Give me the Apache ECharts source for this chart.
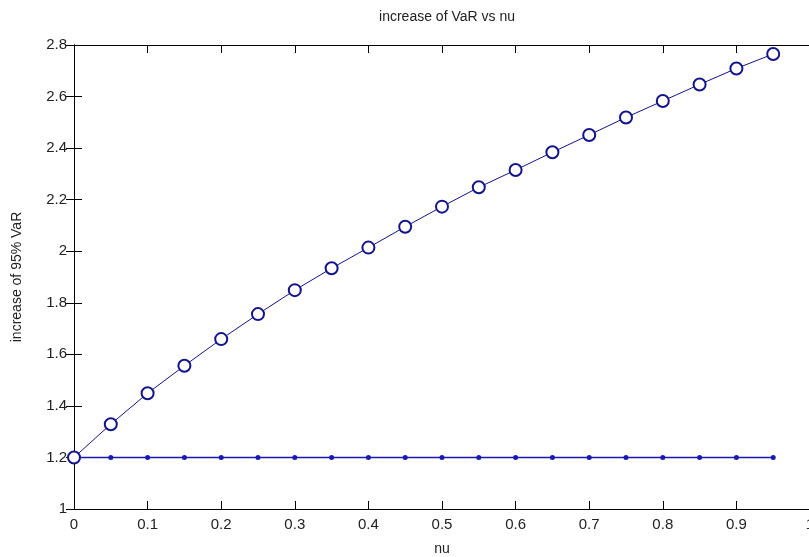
<!DOCTYPE html>
<html><head><meta charset="utf-8">
<script src="https://cdn.jsdelivr.net/npm/echarts@6/dist/echarts.min.js"></script>
<style>html,body{margin:0;padding:0;background:#fff}#c{width:809px;height:557px}</style>
</head><body><div id="c"></div>
<script>
const nu = [0,0.05,0.1,0.15,0.2,0.25,0.3,0.35,0.4,0.45,0.5,0.55,0.6,0.65,0.7,0.75,0.8,0.85,0.9,0.95];
const varIncrease = [1.2,1.329,1.449,1.556,1.659,1.756,1.849,1.934,2.014,2.095,2.173,2.248,2.315,2.384,2.451,2.519,2.583,2.647,2.709,2.765];
const baseline = [1.2,1.2,1.2,1.2,1.2,1.2,1.2,1.2,1.2,1.2,1.2,1.2,1.2,1.2,1.2,1.2,1.2,1.2,1.2,1.2];
const titleText = 'increase of VaR vs nu';
const xName = 'nu';
const yName = 'increase of 95% VaR';

const font = "'Liberation Sans Narrow','Liberation Sans',Arial,sans-serif";
const txt = '#222';
const axisLine = {show:true, lineStyle:{color:'#000', width:1}};
const chart = echarts.init(document.getElementById('c'));
const grid = {left:74, top:45, width:736, height:464, containLabel:false, outerBoundsMode:'none'};
chart.setOption({
  animation:false,
  backgroundColor:'#fff',
  title:{text:titleText, left:442, top:5, textAlign:'center',
    textStyle:{fontFamily:font, fontSize:14, fontWeight:'normal', color:txt}},
  grid: grid,
  xAxis:[{
    type:'value', min:0, max:1, interval:0.1, position:'bottom',
    axisLine:axisLine, axisTick:{show:true, inside:true, length:8, lineStyle:{color:'#000'}},
    splitLine:{show:false},
    axisLabel:{fontFamily:font, fontSize:15, color:txt, margin:8,
      formatter:v=>String(Math.round(v*10)/10)},
    name:xName, nameLocation:'middle', nameGap:33,
    nameTextStyle:{fontFamily:font, fontSize:14, color:txt}
  },{
    type:'value', min:0, max:1, interval:0.1, position:'top',
    axisLine:axisLine, axisTick:{show:true, inside:true, length:8, lineStyle:{color:'#000'}},
    splitLine:{show:false}, axisLabel:{show:false}
  }],
  yAxis:[{
    type:'value', min:1, max:2.8, interval:0.2, position:'left',
    axisLine:axisLine, axisTick:{show:true, inside:true, length:8, lineStyle:{color:'#000'}},
    splitLine:{show:false},
    axisLabel:{fontFamily:font, fontSize:15, color:txt, margin:7, inside:false,
      formatter:v=>String(Math.round(v*10)/10)},
    name:yName, nameLocation:'middle', nameGap:50, nameRotate:90,
    nameTextStyle:{fontFamily:font, fontSize:14, color:txt}
  },{
    type:'value', min:1, max:2.8, interval:0.2, position:'right',
    axisLine:axisLine, axisTick:{show:true, inside:true, length:8, lineStyle:{color:'#000'}},
    splitLine:{show:false}, axisLabel:{show:false}
  }],
  series:[{
    type:'line', data:nu.map((x,i)=>[x,varIncrease[i]]),
    symbol:'emptyCircle', symbolSize:12,
    lineStyle:{color:'#14148a', width:1},
    itemStyle:{color:'#14148a', borderColor:'#14148a', borderWidth:1},
    z:3
  },{
    type:'line', data:nu.map((x,i)=>[x,baseline[i]]),
    symbol:'circle', symbolSize:5,
    lineStyle:{color:'#1a1ab0', width:1.6},
    itemStyle:{color:'#1a1ab0'},
    z:2
  }]
});
</script></body></html>
